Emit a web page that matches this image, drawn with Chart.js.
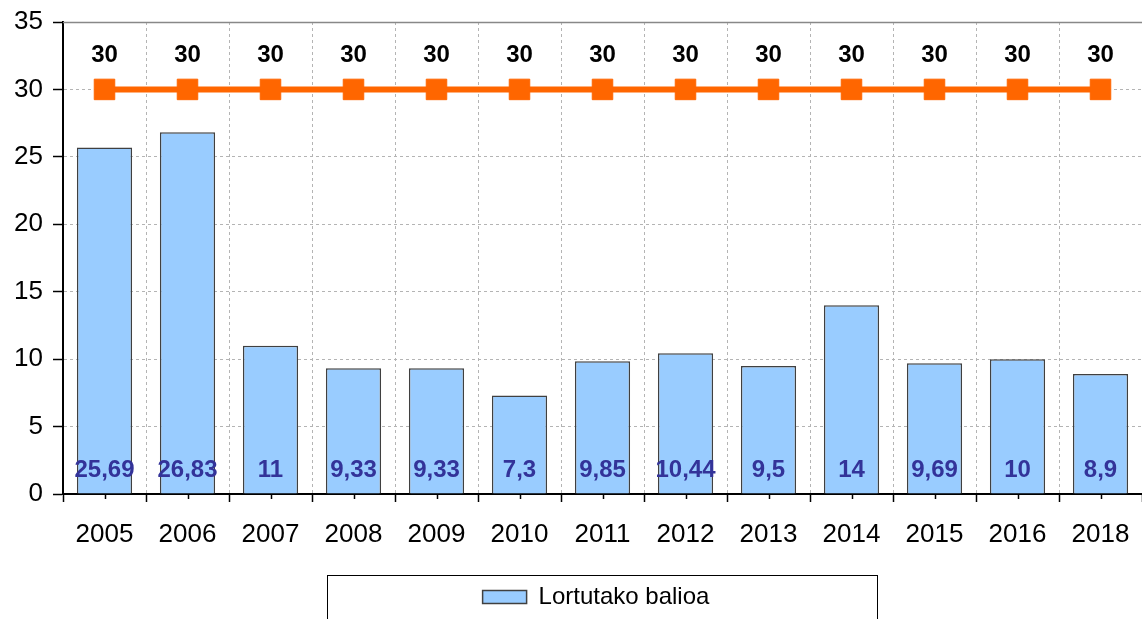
<!DOCTYPE html>
<html><head><meta charset="utf-8">
<script src="https://cdn.jsdelivr.net/npm/chart.js@4/dist/chart.umd.min.js"></script>
<style>html,body{margin:0;padding:0;background:#fff;overflow:hidden}</style>
</head><body>
<canvas id="c" width="1142" height="619"></canvas>
<script>
const categories = ['2005','2006','2007','2008','2009','2010','2011','2012','2013','2014','2015','2016','2018'];
const achievedValues = [25.69, 26.83, 11, 9.33, 9.33, 7.3, 9.85, 10.44, 9.5, 14, 9.69, 10, 8.9];
const targetValues = [30, 30, 30, 30, 30, 30, 30, 30, 30, 30, 30, 30, 30];
const yTicks = [0, 5, 10, 15, 20, 25, 30, 35];
const barLabel = 'Lortutako balioa';
const targetLabel = 'Helburua';

const FONT = "'Liberation Sans', Arial, sans-serif";
const fmt = v => String(v).replace('.', ',');

const decorPlugin = {
  id: 'decor',
  afterLayout(chart) {
    const lg = chart.legend;
    if (lg) { lg.left = 327; lg.right = 865; }
  },
  afterDatasetsDraw(chart) {
    const ctx = chart.ctx;
    const ys = chart.scales.y;
    ctx.save();
    ctx.textAlign = 'center';
    ctx.textBaseline = 'middle';
    const barMeta = chart.getDatasetMeta(1);
    ctx.font = "bold 24px " + FONT;
    ctx.fillStyle = '#333399';
    barMeta.data.forEach((el, i) => {
      ctx.fillText(fmt(achievedValues[i]), el.x, ys.getPixelForValue(0) - 24);
    });
    const lineMeta = chart.getDatasetMeta(0);
    ctx.fillStyle = '#000';
    lineMeta.data.forEach((el, i) => {
      ctx.fillText(fmt(targetValues[i]), el.x, el.y - 34);
    });
    ctx.restore();
  },
  beforeDatasetsDraw(chart) {
    const ctx = chart.ctx, a = chart.chartArea;
    ctx.save();
    ctx.strokeStyle = '#888';
    ctx.lineWidth = 1.5;
    ctx.beginPath();
    ctx.moveTo(a.left, a.top + 0.5);
    ctx.lineTo(a.right, a.top + 0.5);
    ctx.stroke();
    ctx.restore();
  },
  afterDraw(chart) {
    const ctx = chart.ctx, xs = chart.scales.x, a = chart.chartArea;
    ctx.save();
    ctx.strokeStyle = '#000';
    ctx.lineWidth = 1.5;
    categories.forEach((c, i) => {
      const x = Math.round(xs.getPixelForValue(i)) + 0.5;
      ctx.beginPath();
      ctx.moveTo(x, a.bottom);
      ctx.lineTo(x, a.bottom + 5);
      ctx.stroke();
    });
    ctx.lineWidth = 1;
    ctx.strokeRect(327.5, 575.5, 550, 60);
    ctx.restore();
  }
};

new Chart(document.getElementById('c'), {
  data: {
    labels: categories,
    datasets: [
      {
        type: 'line',
        label: targetLabel,
        data: targetValues,
        order: 0,
        borderColor: '#FF6600',
        backgroundColor: '#FF6600',
        borderWidth: 6,
        pointStyle: 'rect',
        pointRadius: 14.5,
        pointBorderWidth: 1,
        pointBackgroundColor: '#FF6600',
        pointBorderColor: '#FF6600',
        tension: 0
      },
      {
        type: 'bar',
        label: barLabel,
        data: achievedValues,
        order: 1,
        backgroundColor: '#99CCFF',
        borderColor: '#404040',
        borderWidth: 1.5,
        barPercentage: 0.665,
        categoryPercentage: 1
      }
    ]
  },
  options: {
    responsive: false,
    animation: false,
    events: [],
    layout: { autoPadding: false, padding: { top: 22, left: 0, right: 0, bottom: 0 } },
    plugins: {
      tooltip: { enabled: false },
      legend: {
        position: 'bottom',
        labels: {
          filter: item => item.datasetIndex === 1,
          boxWidth: 44,
          boxHeight: 13,
          padding: 10,
          color: '#000',
          font: { size: 24, family: FONT }
        }
      }
    },
    scales: {
      x: {
        offset: true,
        grid: { offset: true, color: '#b4b4b4', lineWidth: 1, tickColor: '#000', tickLength: 8, tickWidth: 1.5, tickBorderDash: [] },
        border: { color: '#000', width: 2, dash: [3, 3] },
        ticks: { color: '#000', font: { size: 26, family: FONT }, padding: 17, maxRotation: 0, autoSkip: false },
        afterFit(s) { s.height = 81; s.paddingLeft = 0; s.paddingRight = 0; }
      },
      y: {
        min: 0,
        max: 35,
        afterBuildTicks(s) { s.ticks = yTicks.map(v => ({ value: v })); },
        grid: { color: '#b4b4b4', lineWidth: 1, tickColor: '#000', tickLength: 10, tickWidth: 1.5, tickBorderDash: [] },
        border: { color: '#000', width: 2, dash: [3, 3] },
        ticks: { color: '#000', font: { size: 26, family: FONT }, padding: 10 },
        afterFit(s) { s.width = 63; s.paddingTop = 0; s.paddingBottom = 0; }
      }
    }
  },
  plugins: [decorPlugin]
});
</script>
</body></html>
